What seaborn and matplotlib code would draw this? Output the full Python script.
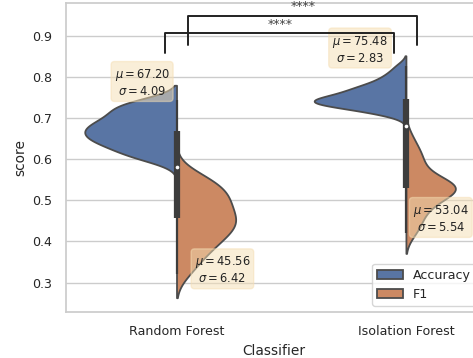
import numpy as np
import pandas as pd
import matplotlib
matplotlib.use("Agg")
import matplotlib.pyplot as plt
from matplotlib import cbook
import seaborn as sns

classifiers = ["Random Forest", "Isolation Forest"]
metrics = ["Accuracy", "F1"]

# per-run scores for each classifier / metric
rf_accuracy = [0.598, 0.606, 0.610, 0.617, 0.626, 0.631, 0.636, 0.641, 0.645, 0.649,
               0.653, 0.657, 0.661, 0.665, 0.669, 0.673, 0.677, 0.681, 0.685, 0.689,
               0.693, 0.699, 0.704, 0.711, 0.717, 0.723, 0.728, 0.733, 0.739, 0.744]
rf_f1 = [0.320, 0.342, 0.358, 0.372, 0.383, 0.393, 0.402, 0.410, 0.416, 0.424,
         0.432, 0.438, 0.444, 0.447, 0.452, 0.458, 0.466, 0.473, 0.479, 0.488,
         0.495, 0.501, 0.508, 0.514, 0.522, 0.530, 0.535, 0.545, 0.557, 0.564]
if_accuracy = [0.709, 0.715, 0.720, 0.724, 0.727, 0.731, 0.734, 0.736, 0.737, 0.738,
               0.740, 0.741, 0.743, 0.745, 0.747, 0.749, 0.752, 0.755, 0.758, 0.762,
               0.766, 0.770, 0.772, 0.775, 0.780, 0.786, 0.793, 0.801, 0.811, 0.827]
if_f1 = [0.420, 0.432, 0.446, 0.460, 0.473, 0.482, 0.486, 0.500, 0.506, 0.511,
         0.515, 0.519, 0.523, 0.526, 0.530, 0.530, 0.533, 0.536, 0.539, 0.543,
         0.546, 0.549, 0.552, 0.574, 0.580, 0.594, 0.606, 0.616, 0.630, 0.655]

significance = ["****", "****"]

scores = {
    ("Random Forest", "Accuracy"): rf_accuracy,
    ("Random Forest", "F1"): rf_f1,
    ("Isolation Forest", "Accuracy"): if_accuracy,
    ("Isolation Forest", "F1"): if_f1,
}
rows = [(c, m, v) for (c, m), vals in scores.items() for v in vals]
df = pd.DataFrame(rows, columns=["Classifier", "Metric", "score"])

# where the mean/std boxes sit (offset from the violin centre, score level)
stat_box_pos = {
    ("Random Forest", "Accuracy"): (-0.15, 0.787),
    ("Random Forest", "F1"): (0.20, 0.331),
    ("Isolation Forest", "Accuracy"): (-0.20, 0.8685),
    ("Isolation Forest", "F1"): (0.152, 0.456),
}
# significance brackets: (x left, x right, leg bottom, bar height, text height)
bracket_geom = [(-0.05, 0.95, 0.8585, 0.907, 0.929),
                (0.05, 1.05, 0.879, 0.950, 0.9715)]

sns.set_theme(style="whitegrid")
plt.rcParams.update({
    "font.family": ["DejaVu Sans"],
    "axes.labelsize": 9.9,
    "xtick.labelsize": 9.1,
    "ytick.labelsize": 9.1,
    "legend.fontsize": 9.1,
})

W, H = 473, 358
fig = plt.figure(figsize=(W / 100, H / 100), dpi=100)
ax = fig.add_axes([65.7 / W, (H - 312.3) / H, (482 - 65.7) / W, (312.3 - 2.7) / H])

# one call per classifier so the two halves of each violin share a density scale
for i, clf in enumerate(classifiers):
    sns.violinplot(data=df[df["Classifier"] == clf], x="Classifier", y="score",
                   hue="Metric", order=classifiers, hue_order=metrics,
                   split=True, inner=None, common_norm=True, bw_adjust=0.86,
                   linewidth=1.3, ax=ax, legend=(i == 0))

# combined box summary drawn on the split line
edge = "#3d3d3d"
for pos, clf in enumerate(classifiers):
    obs = np.concatenate([scores[(clf, m)] for m in metrics])
    st = cbook.boxplot_stats(obs)[0]
    ax.vlines(pos, st["whislo"], st["whishi"], color=edge, lw=1.6, zorder=3)
    ax.vlines(pos, st["q1"], st["q3"], color=edge, lw=4.5, zorder=3)
    ax.scatter([pos], [st["med"]], s=7, color="white", zorder=4, linewidths=0)

# mean / std boxes
for (clf, m), vals in scores.items():
    arr = np.asarray(vals)
    dx, y = stat_box_pos[(clf, m)]
    x = classifiers.index(clf) + dx
    txt = f"$\\mu = {arr.mean() * 100:.2f}$\n$\\sigma = {arr.std() * 100:.2f}$"
    ax.text(x, y, txt, ha="center", va="center", fontsize=8.3, color="#222222",
            multialignment="center", zorder=5,
            bbox=dict(boxstyle="round", facecolor="wheat", edgecolor="wheat", alpha=0.5))

# significance brackets
for (x1, x2, y0, y1, yt), label in zip(bracket_geom, significance):
    ax.plot([x1, x1, x2, x2], [y0, y1, y1, y0], color="#222222", lw=1.4,
            clip_on=False, zorder=5)
    ax.text((x1 + x2) / 2, yt, label, ha="center", va="center", fontsize=9,
            color="#444444", clip_on=False)

sns.move_legend(ax, "lower right", title=None, frameon=True)

ax.set_xlim(-0.483, 1.3316)
ax.set_ylim(0.2276, 0.9812)
ax.set_xlabel("Classifier")
ax.set_ylabel("score")

fig.savefig("out.png", dpi=100)
